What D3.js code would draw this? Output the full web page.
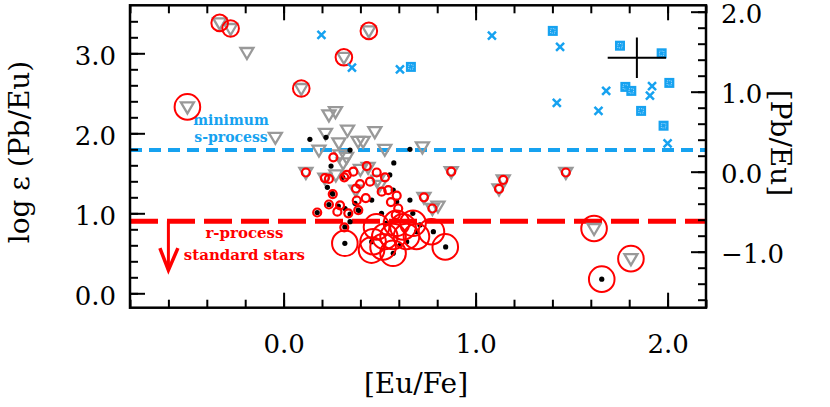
<!DOCTYPE html>
<html>
<head>
<meta charset="utf-8">
<script src="https://cdn.jsdelivr.net/npm/d3@7"></script>
<style>
  body { margin: 0; background: #fff; }
  svg { display: block; }
</style>
</head>
<body>
<div id="chart"></div>
<script>
// [Eu/Fe], log eps(Pb/Eu)
var limitTriangles = [
  [-0.333, 3.38], [-0.276, 3.31], [-0.191, 3.01], [0.092, 2.56], [-0.501, 2.33], [-0.043, 1.95],
  [0.314, 2.95], [0.444, 3.28], [0.236, 2.23], [0.270, 2.27], [0.218, 2.00], [0.333, 2.04],
  [0.475, 2.02], [0.288, 1.88], [0.388, 1.90], [0.414, 1.90], [0.184, 1.79], [0.527, 1.80],
  [0.723, 1.83], [0.293, 1.73], [0.328, 1.70], [0.310, 1.63], [0.116, 1.51], [0.215, 1.44],
  [0.440, 1.575], [0.873, 1.52], [0.731, 1.20], [0.775, 1.06], [0.804, 1.09], [1.144, 1.417],
  [1.122, 1.305], [1.470, 1.51], [1.617, 0.81], [1.809, 0.433], [0.490, 1.415], [0.376, 1.29],
  [0.272, 1.48], [0.400, 1.55], [0.500, 1.35]
];
var blackDots = [
  [0.137, 1.925], [0.221, 1.95], [0.346, 1.79], [0.574, 1.63], [0.247, 1.59], [0.228, 1.325],
  [0.250, 1.26], [0.308, 1.45], [0.175, 1.01], [0.236, 1.11], [0.256, 1.24], [0.285, 1.09],
  [0.320, 1.06], [0.346, 0.99], [0.389, 1.04], [0.372, 1.125], [0.459, 1.165], [0.319, 0.83],
  [0.346, 0.895], [0.398, 1.02], [0.533, 0.875], [0.589, 1.145], [0.571, 1.29], [0.693, 0.77],
  [0.780, 0.77], [0.844, 0.58], [0.319, 0.625], [0.459, 0.645], [0.571, 0.50], [0.606, 0.60],
  [0.641, 0.645], [0.658, 1.80], [1.657, 0.177], [0.510, 1.00], [0.673, 1.00], [0.710, 0.855],
  [0.553, 1.48], [0.658, 1.165]
];
var redSmall = [
  [0.259, 1.70], [0.363, 1.52], [0.433, 1.59], [0.485, 1.51], [0.528, 1.45], [0.329, 1.48],
  [0.316, 1.45], [0.236, 1.43], [0.398, 1.365], [0.377, 1.31], [0.450, 1.395], [0.511, 1.27],
  [0.545, 1.29], [0.589, 1.22], [0.428, 1.19], [0.381, 1.16], [0.559, 1.14], [0.256, 1.24],
  [0.236, 1.11], [0.294, 1.10], [0.280, 1.02], [0.337, 1.00], [0.175, 1.01], [0.389, 1.04],
  [0.597, 1.06], [0.584, 0.98], [0.316, 0.825], [0.116, 1.51], [0.215, 1.44], [0.873, 1.52],
  [0.731, 1.20], [0.775, 1.06], [1.144, 1.417], [1.122, 1.305], [1.470, 1.51]
];
var redMid = [[-0.333, 3.38], [-0.276, 3.31], [0.092, 2.56], [0.314, 2.95], [0.444, 3.28]];
var redBig = [
  [-0.501, 2.33], [0.319, 0.625], [0.466, 0.645], [0.458, 0.54], [0.484, 0.83], [0.527, 0.71],
  [0.570, 0.71], [0.588, 0.875], [0.622, 0.83], [0.640, 0.71], [0.674, 0.875], [0.692, 0.71],
  [0.770, 0.77], [0.842, 0.58], [0.518, 0.58], [0.570, 0.50], [1.617, 0.81], [1.809, 0.433],
  [1.657, 0.177]
];
var blueCross = [
  [1.440, 3.08], [1.423, 2.38], [1.680, 2.53], [1.640, 2.28], [1.919, 2.59], [1.908, 2.47],
  [2.000, 1.875], [0.197, 3.23], [0.356, 2.82], [1.085, 3.22], [0.606, 2.80]
];
var blueSquare = [
  [1.402, 3.28], [1.752, 3.095], [1.969, 3.00], [1.780, 2.58], [1.811, 2.53], [2.009, 2.63],
  [1.862, 2.28], [1.979, 2.095], [0.663, 2.83]
];
var errorBar = { x: 1.84, y: 2.945, dx: 0.152, dy: 0.254 };
var sProcessMin = 1.79;
var rProcessStd = 0.9;
var solarPbEu = 1.52;
var xMajor = [0.0, 1.0, 2.0];
var leftMajor = [0.0, 1.0, 2.0, 3.0];
var rightMajor = [-1.0, 0.0, 1.0, 2.0];

var W = 830, H = 407;
var red = "#ff0000", blue = "#16a2f0", gray = "#999999";
var serif = "'DejaVu Serif', serif";

var x = d3.scaleLinear().domain([-0.8, 2.2]).range([130, 706]);
var y = d3.scaleLinear().domain([-0.18, 3.6]).range([307.7, 5.3]);
var y2 = d3.scaleLinear().domain([-0.18 - solarPbEu, 3.6 - solarPbEu]).range([307.7, 5.3]);

var svg = d3.select("#chart").append("svg").attr("width", W).attr("height", H);

// reference lines
svg.append("line")
  .attr("x1", x(-0.8)).attr("x2", x(2.2))
  .attr("y1", y(sProcessMin)).attr("y2", y(sProcessMin))
  .attr("stroke", blue).attr("stroke-width", 4).attr("stroke-dasharray", "12,7");
svg.append("line")
  .attr("x1", x(-0.8)).attr("x2", x(2.2))
  .attr("y1", y(rProcessStd)).attr("y2", y(rProcessStd))
  .attr("stroke", red).attr("stroke-width", 5).attr("stroke-dasharray", "28,9");

// arrow under the r-process line
var arrowX = -0.6, arrowTip = 0.29;
svg.append("path")
  .attr("d", "M" + x(arrowX) + "," + y(rProcessStd) + "V" + y(arrowTip))
  .attr("stroke", red).attr("stroke-width", 3).attr("fill", "none");
svg.append("path")
  .attr("d", "M" + (x(arrowX) - 8.5) + "," + (y(arrowTip) - 22) + "L" + x(arrowX) + "," + y(arrowTip) + "L" + (x(arrowX) + 9.5) + "," + (y(arrowTip) - 22))
  .attr("stroke", red).attr("stroke-width", 3.5).attr("fill", "none");

// annotations
var note = svg.append("g").attr("font-family", serif).attr("font-weight", "bold")
  .attr("text-anchor", "middle");
note.append("text").attr("x", x(-0.274)).attr("y", 125).attr("font-size", 14).attr("fill", blue).text("minimum");
note.append("text").attr("x", x(-0.274)).attr("y", 141.5).attr("font-size", 14).attr("fill", blue).text("s-process");
note.append("text").attr("x", x(-0.204)).attr("y", 238).attr("font-size", 15).attr("fill", red).text("r-process");
note.append("text").attr("x", x(-0.204)).attr("y", 259.5).attr("font-size", 15).attr("fill", red).text("standard stars");

// upper limits
svg.append("g").selectAll("path").data(limitTriangles).join("path")
  .attr("transform", function (d) { return "translate(" + x(d[0]) + "," + y(d[1]) + ")"; })
  .attr("d", "M-6.5,-4.5L6.5,-4.5L0,6.5Z")
  .attr("fill", "none").attr("stroke", gray).attr("stroke-width", 2.3);

svg.append("g").selectAll("circle").data(blackDots).join("circle")
  .attr("cx", function (d) { return x(d[0]); }).attr("cy", function (d) { return y(d[1]); })
  .attr("r", 2.6).attr("fill", "#000");

svg.append("g").selectAll("circle").data(redSmall).join("circle")
  .attr("cx", function (d) { return x(d[0]); }).attr("cy", function (d) { return y(d[1]); })
  .attr("r", 4).attr("fill", "none").attr("stroke", red).attr("stroke-width", 2.2);

svg.append("g").selectAll("circle").data(redMid).join("circle")
  .attr("cx", function (d) { return x(d[0]); }).attr("cy", function (d) { return y(d[1]); })
  .attr("r", 8.3).attr("fill", "none").attr("stroke", red).attr("stroke-width", 2);

svg.append("g").selectAll("circle").data(redBig).join("circle")
  .attr("cx", function (d) { return x(d[0]); }).attr("cy", function (d) { return y(d[1]); })
  .attr("r", 12.8).attr("fill", "none").attr("stroke", red).attr("stroke-width", 2);

svg.append("g").selectAll("path").data(blueCross).join("path")
  .attr("transform", function (d) { return "translate(" + x(d[0]) + "," + y(d[1]) + ")"; })
  .attr("d", "M-4,-4L4,4M-4,4L4,-4")
  .attr("stroke", blue).attr("stroke-width", 2.5);

var sq = svg.append("g").selectAll("g").data(blueSquare).join("g")
  .attr("transform", function (d) { return "translate(" + x(d[0]) + "," + y(d[1]) + ")"; });
sq.append("rect").attr("x", -5).attr("y", -5).attr("width", 10).attr("height", 10).attr("fill", blue);
sq.append("rect").attr("x", -2.2).attr("y", -2.2).attr("width", 4.4).attr("height", 4.4)
  .attr("fill", "none").attr("stroke", "#cfeaff").attr("stroke-width", 0.8).attr("stroke-dasharray", "1,1.2");

// typical error
svg.append("path")
  .attr("d", "M" + x(errorBar.x - errorBar.dx) + "," + y(errorBar.y) + "H" + x(errorBar.x + errorBar.dx) +
    "M" + x(errorBar.x) + "," + y(errorBar.y + errorBar.dy) + "V" + y(errorBar.y - errorBar.dy))
  .attr("stroke", "#000").attr("stroke-width", 2);

// axes
function minor(lo, hi) { return d3.range(lo, hi + 1e-9, 0.2).map(function (v) { return Math.round(v * 10) / 10; }); }
function style(g) {
  g.select(".domain").remove();
  g.selectAll("line").attr("stroke", "#000").attr("stroke-width", 2);
  g.selectAll("text").attr("font-family", serif).attr("font-size", 26).attr("fill", "#000");
}
var fmt = function (v) { return d3.format(".1f")(v).replace("-", "\u2212"); };

svg.append("g").attr("transform", "translate(0," + y.range()[0] + ")")
  .call(d3.axisBottom(x).tickValues(minor(-0.8, 2.2)).tickSize(-8).tickFormat("")).call(style);
svg.append("g").attr("transform", "translate(0," + y.range()[0] + ")")
  .call(d3.axisBottom(x).tickValues(xMajor).tickSize(-15).tickPadding(27).tickFormat(fmt)).call(style);
svg.append("g").attr("transform", "translate(0," + y.range()[1] + ")")
  .call(d3.axisTop(x).tickValues(minor(-0.8, 2.2)).tickSize(-8).tickFormat("")).call(style);
svg.append("g").attr("transform", "translate(0," + y.range()[1] + ")")
  .call(d3.axisTop(x).tickValues(xMajor).tickSize(-15).tickFormat("")).call(style);

svg.append("g").attr("transform", "translate(" + x.range()[0] + ",0)")
  .call(d3.axisLeft(y).tickValues(minor(0, 3.4)).tickSize(-8).tickFormat("")).call(style);
svg.append("g").attr("transform", "translate(" + x.range()[0] + ",0)")
  .call(d3.axisLeft(y).tickValues(leftMajor).tickSize(-15).tickPadding(14).tickFormat(fmt)).call(style)
  .selectAll("text").attr("dy", "0.42em");
svg.append("g").attr("transform", "translate(" + x.range()[1] + ",0)")
  .call(d3.axisRight(y2).tickValues(minor(-1.6, 2.0)).tickSize(-8).tickFormat("")).call(style);
svg.append("g").attr("transform", "translate(" + x.range()[1] + ",0)")
  .call(d3.axisRight(y2).tickValues(rightMajor).tickSize(-15).tickPadding(15).tickFormat(fmt)).call(style)
  .selectAll("text").attr("dy", "0.42em");

svg.append("rect")
  .attr("x", x.range()[0]).attr("y", y.range()[1])
  .attr("width", x.range()[1] - x.range()[0]).attr("height", y.range()[0] - y.range()[1])
  .attr("fill", "none").attr("stroke", "#000").attr("stroke-width", 2.5);

// axis titles
var titles = svg.append("g").attr("font-family", serif).attr("font-size", 28).attr("text-anchor", "middle");
titles.append("text").attr("transform", "translate(29,152) rotate(-90)").text("log \u03b5 (Pb/Eu)");
titles.append("text").attr("transform", "translate(771,143) rotate(90)").text("[Pb/Eu]");
titles.append("text").attr("x", 416).attr("y", 393).text("[Eu/Fe]");
</script>
</body>
</html>
